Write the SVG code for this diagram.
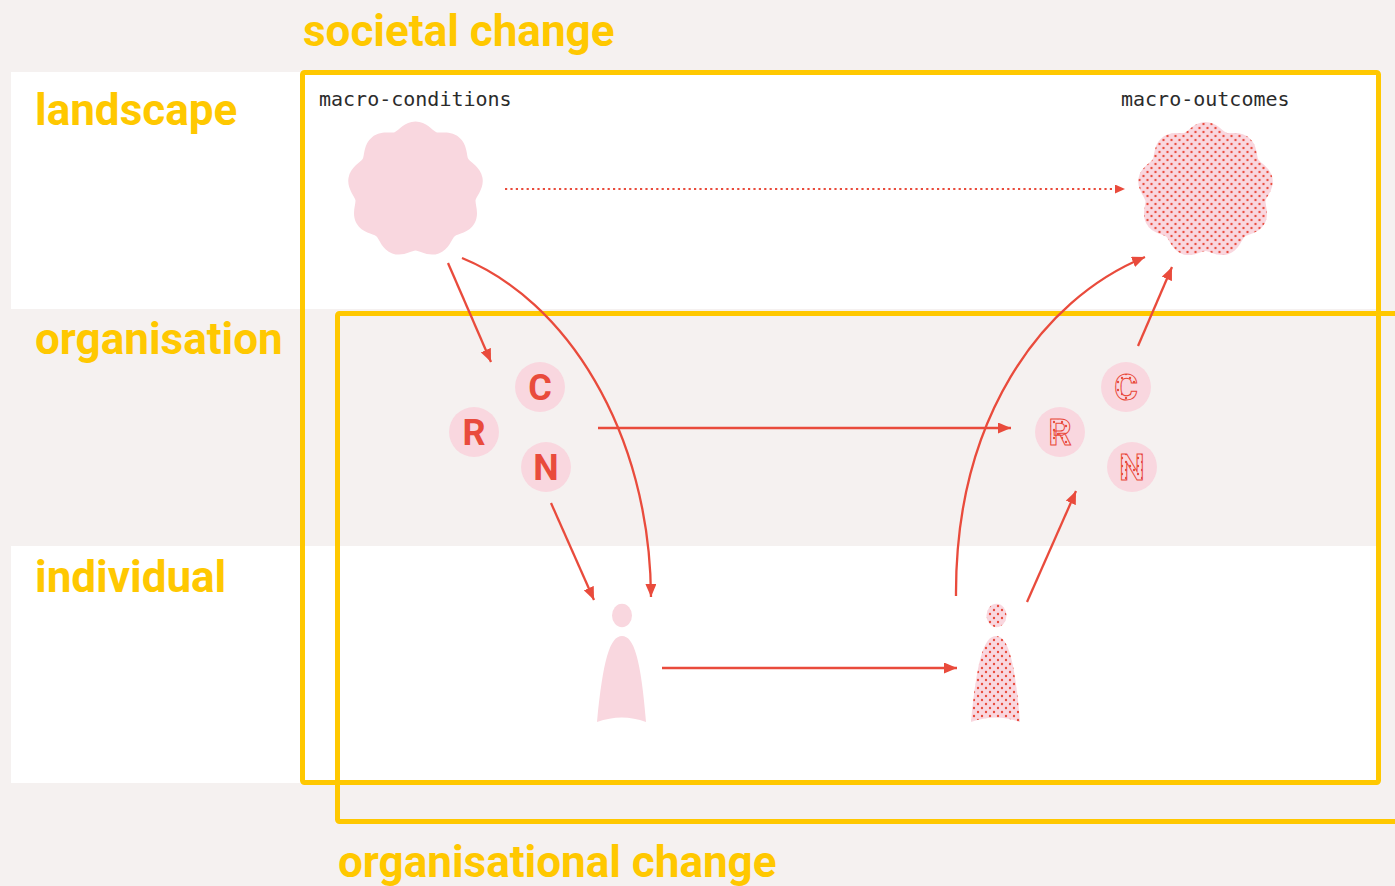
<svg xmlns="http://www.w3.org/2000/svg" width="1395" height="886" viewBox="0 0 1395 886">
<style>
.band{fill:#ffffff}
.frame{fill:none;stroke:#ffc800;stroke-width:5}
.lbl{font-family:Roboto,"Liberation Sans",sans-serif;font-weight:700;font-size:44px;fill:#ffc800}
.mono{font-family:"DejaVu Sans Mono","Liberation Mono",monospace;font-size:20px;fill:#2b2b2b}
.arr{fill:none;stroke:#e94b3c;stroke-width:2.3;marker-end:url(#ah)}
.dotted{fill:none;stroke:#e94b3c;stroke-width:2.2;stroke-dasharray:2.2 3.2;marker-end:url(#ahs)}
.pink{fill:#f9d7df}
.let{font-family:Roboto,"Liberation Sans",sans-serif;font-weight:700;font-size:36px;text-anchor:middle}
.solid{fill:#e94b3c}
.outl{fill:url(#dots);stroke:#e94b3c;stroke-width:1}
</style>
<defs>
<marker id="ah" markerUnits="userSpaceOnUse" markerWidth="14" markerHeight="11" refX="13" refY="5.5" orient="auto">
<path d="M0,0 L13,5.5 L0,11 z" fill="#e94b3c"/>
</marker>
<marker id="ahs" markerUnits="userSpaceOnUse" markerWidth="11" markerHeight="9" refX="10" refY="4.5" orient="auto">
<path d="M0,0 L10,4.5 L0,9 z" fill="#e94b3c"/>
</marker>
<pattern id="dots" patternUnits="userSpaceOnUse" width="8" height="8">
<rect width="8" height="8" fill="#f9d7df"/>
<circle cx="2" cy="2" r="1.2" fill="#e94b3c"/>
<circle cx="6" cy="6" r="1.2" fill="#e94b3c"/>
</pattern>
<path id="blob" d="M0,-68 C11,-68 17.10,-58.69 20.86,-57.32 C24.62,-55.95 35.28,-59.16 43.71,-52.09 C52.14,-45.02 50.83,-33.96 52.83,-30.5 C54.83,-27.04 65.06,-22.63 66.97,-11.80 C68.88,-0.97 60.77,6.65 60.08,10.59 C59.39,14.53 64.39,24.47 58.89,34 C53.39,43.53 42.27,44.16 39.21,46.73 C36.15,49.30 33.60,60.14 23.26,63.90 C12.92,67.66 4,61 0,61 C-4,61 -12.92,67.66 -23.26,63.90 C-33.60,60.14 -36.15,49.30 -39.21,46.73 C-42.27,44.16 -53.39,43.53 -58.89,34 C-64.39,24.47 -59.39,14.53 -60.08,10.59 C-60.77,6.65 -68.88,-0.97 -66.97,-11.80 C-65.06,-22.63 -54.83,-27.04 -52.83,-30.5 C-50.83,-33.96 -52.14,-45.02 -43.71,-52.09 C-35.28,-59.16 -24.62,-55.95 -20.86,-57.32 C-17.10,-58.69 -11,-68 0,-68Z"/>
<path id="body" d="M-25,0 C-19,-62 -12,-86 0,-86 C12,-86 19,-62 24,0 Q0,-9 -25,0Z"/>
</defs>

<rect width="1395" height="886" fill="#f5f1f0"/>
<g id="bands">
<rect class="band" x="11" y="72" width="1368" height="237"/>
<rect class="band" x="11" y="546" width="1368" height="237"/>
</g>

<g id="frames">
<rect id="organisational-frame" class="frame" x="337.5" y="313.5" width="1065" height="508" rx="2"/>
<rect id="societal-frame" class="frame" x="302.5" y="72.5" width="1076" height="710" rx="2"/>
</g>

<g id="labels">
<text class="lbl" x="303" y="46">societal change</text>
<text class="lbl" x="35" y="125">landscape</text>
<text class="lbl" x="35" y="354">organisation</text>
<text class="lbl" x="35" y="592">individual</text>
<text class="lbl" x="338" y="877">organisational change</text>
</g>

<g id="connectors">
<path class="dotted" d="M505,189 L1125,189"/>
<path class="arr" d="M448,263 L491,362"/>
<path class="arr" d="M462,258 C565,300 650,430 651,597"/>
<path class="arr" d="M598,428 L1011,428"/>
<path class="arr" d="M551,503 L594,600"/>
<path class="arr" d="M662,668 L957,668"/>
<path class="arr" d="M956,596 C955,420 1040,300 1145,257"/>
<path class="arr" d="M1027,602 L1076,491"/>
<path class="arr" d="M1138,346 L1172,267"/>
</g>

<g id="macro-conditions">
<text class="mono" x="319" y="106">macro-conditions</text>
<use href="#blob" class="pink" transform="translate(415.5,189.5)"/>
</g>

<g id="macro-outcomes">
<text class="mono" x="1121" y="106">macro-outcomes</text>
<use href="#blob" fill="url(#dots)" transform="translate(1205.5,190)"/>
</g>

<g id="org-left">
<circle class="pink" cx="540" cy="387" r="25"/>
<text class="let solid" x="540" y="400">C</text>
<circle class="pink" cx="474" cy="432" r="25"/>
<text class="let solid" x="474" y="445">R</text>
<circle class="pink" cx="546" cy="467" r="25"/>
<text class="let solid" x="546" y="480">N</text>
</g>

<g id="org-right">
<circle class="pink" cx="1126" cy="387" r="25"/>
<text class="let outl" x="1126" y="400">C</text>
<circle class="pink" cx="1060" cy="432" r="25"/>
<text class="let outl" x="1060" y="445">R</text>
<circle class="pink" cx="1132" cy="467" r="25"/>
<text class="let outl" x="1132" y="480">N</text>
</g>

<g id="individual-left">
<ellipse class="pink" cx="622" cy="615.5" rx="10" ry="11.7"/>
<use href="#body" class="pink" transform="translate(622,722)"/>
</g>

<g id="individual-right">
<ellipse fill="url(#dots)" cx="996.5" cy="615.5" rx="10" ry="11.7"/>
<use href="#body" fill="url(#dots)" transform="translate(996,722)"/>
</g>
</svg>
